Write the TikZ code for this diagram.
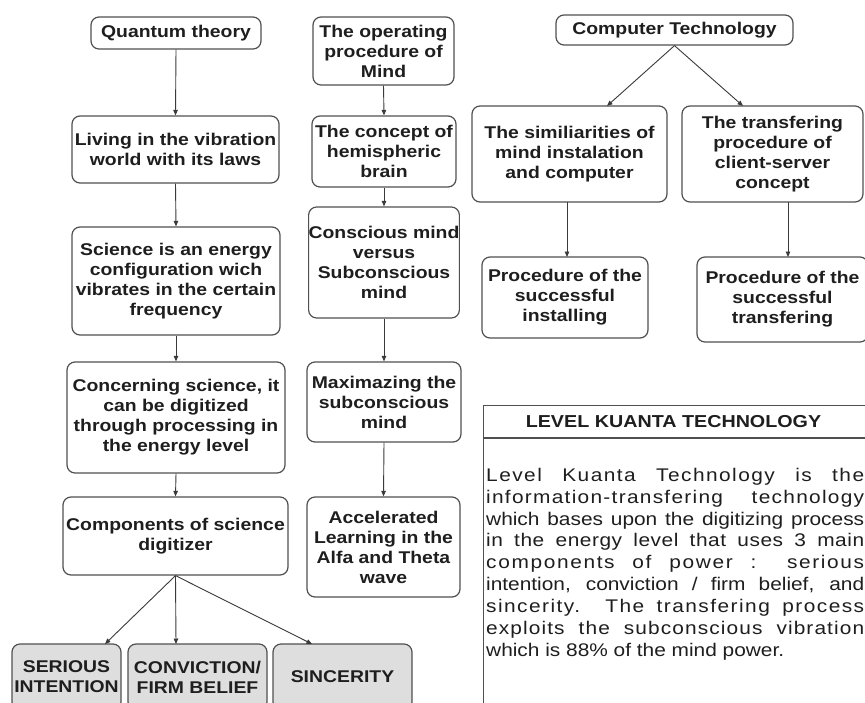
\documentclass[tikz,border=0pt]{standalone}
\usepackage{fontspec}
\setmainfont{Liberation Sans}[FakeStretch=1.14]
\usetikzlibrary{arrows.meta}
\definecolor{linec}{HTML}{3A3A3A}
\definecolor{boxc}{HTML}{505050}
\definecolor{txtc}{HTML}{1E1E1E}
\definecolor{grayfill}{HTML}{DEDEDE}
\newcommand{\lsp}[2]{{\addfontfeature{LetterSpace=#1}#2}}
\begin{document}
\begin{tikzpicture}[x=1pt,y=-1pt,
  every node/.style={text=txtc},
  box/.style={draw=boxc, line width=1.2pt, rounded corners=8pt, inner sep=0pt,
    align=center, font=\fontsize{17}{20}\selectfont\bfseries},
  gbox/.style={box, fill=grayfill},
  arr/.style={draw=linec, line width=0.9pt, -{Triangle[length=5.5pt,width=4.5pt]}}]
\useasboundingbox[fill=white] (0,0) rectangle (865,702);

% left column
\node[box, minimum width=170, minimum height=32] (qt) at (176,33) {Quantum theory};
\node[box, minimum width=207, minimum height=67] (liv) at (175.5,149.5) {Living in the vibration\\world with its laws};
\node[box, minimum width=208, minimum height=108] (sci) at (176,281) {Science is an energy\\configuration wich\\vibrates in the certain\\frequency};
\node[box, minimum width=218, minimum height=111] (conc) at (176,417.5) {Concerning science, it\\can be digitized\\through processing in\\the energy level};
\node[box, minimum width=225, minimum height=78] (comp) at (175.5,536) {Components of science\\digitizer};
\node[gbox, minimum width=109, minimum height=66] (ser) at (66.5,677) {SERIOUS\\INTENTION};
\node[gbox, minimum width=139, minimum height=66] (conv) at (197.5,677) {CONVICTION/\\FIRM BELIEF};
\node[gbox, minimum width=139, minimum height=66] (sinc) at (342.5,677) {SINCERITY};

\draw[arr] (qt.south) -- (liv.north);
\draw[arr] (liv.south) -- (sci.north);
\draw[arr] (sci.south) -- (conc.north);
\draw[arr] (conc.south) -- (comp.north);
\coordinate (serin) at (105,644);
\coordinate (convin) at (176,644);
\coordinate (sincin) at (312,644);
\draw[arr] (comp.south) -- (serin);
\draw[arr] (comp.south) -- (convin);
\draw[arr] (comp.south) -- (sincin);

% middle column
\node[box, minimum width=141, minimum height=68] (op) at (383.5,51) {The operating\\procedure of\\Mind};
\node[box, minimum width=144, minimum height=71] (cpt) at (384,151.5) {The concept of\\hemispheric\\brain};
\node[box, minimum width=147, minimum height=111] (csc) at (384,262.5) {Conscious mind\\versus\\Subconscious\\mind};
\node[box, minimum width=154, minimum height=80] (maxi) at (384,402) {Maximazing the\\subconscious\\mind};
\node[box, minimum width=153, minimum height=100] (acc) at (383.5,547) {Accelerated\\Learning in the\\Alfa and Theta\\wave};

\draw[arr] (op.south) -- (cpt.north);
\draw[arr] (cpt.south) -- (csc.north);
\draw[arr] (csc.south) -- (maxi.north);
\draw[arr] (maxi.south) -- (acc.north);

% right column
\node[box, minimum width=237, minimum height=30] (ct) at (674.5,30) {Computer Technology};
\node[box, minimum width=195, minimum height=96] (sim) at (569.5,154) {The similiarities of\\mind instalation\\and computer};
\node[box, minimum width=181, minimum height=96] (tra) at (772.5,154) {The transfering\\procedure of\\client-server\\concept};
\node[box, minimum width=166, minimum height=81] (pin) at (565,297.5) {Procedure of the\\successful\\installing};
\node[box, minimum width=171, minimum height=85] (ptr) at (782.5,299.5) {Procedure of the\\successful\\transfering};

\coordinate (simin) at (607,106);
\coordinate (train) at (743,106);
\draw[arr] (ct.south) -- (simin);
\draw[arr] (ct.south) -- (train);
\coordinate (simout) at (567,202);
\coordinate (pinin) at (567,257);
\draw[arr] (simout) -- (pinin);
\coordinate (traout) at (788,202);
\coordinate (ptrin) at (788,257);
\draw[arr] (traout) -- (ptrin);

% level kuanta technology box
\node[draw=boxc, line width=1.2pt, anchor=north west, minimum width=386, minimum height=304, inner sep=0pt] (lvl) at (483,405) {};
\node[font=\fontsize{17.3}{20}\selectfont\bfseries] (lvlhead) at (673.5,422) {LEVEL KUANTA TECHNOLOGY};
\draw[draw=boxc, line width=1.8pt] (lvl.west |- 0,438) -- (lvl.east |- 0,438);
\node[anchor=north west, inner sep=0pt, text width=378pt, align=justify,
  font=\fontsize{18.3}{21.9}\selectfont\mdseries] (lvlbody) at (486,467.8)
{\tolerance=10000 \hbadness=10000 \hyphenpenalty=10000
\lsp{8}{Level Kuanta Technology is the}\linebreak
\lsp{7}{information-transfering technology}\linebreak
which bases upon the digitizing process\linebreak
\lsp{3}{in the energy level that uses 3 main}\linebreak
\lsp{9}{components of power : serious}\linebreak
intention, conviction / firm belief, and\linebreak
\lsp{8}{sincerity. The transfering process}\linebreak
\lsp{6}{exploits the subconscious vibration}\linebreak
which is 88\% of the mind power.};
\end{tikzpicture}
\end{document}
